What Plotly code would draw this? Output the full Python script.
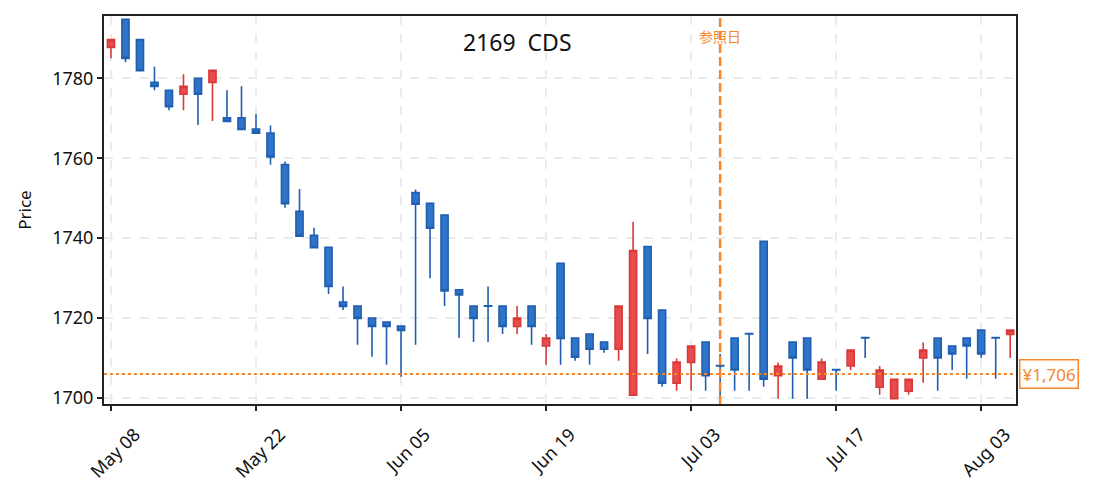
import plotly.graph_objects as go

# ---- data ----
opens = [1787.7, 1794.8, 1789.7, 1779.0, 1777.0, 1776.0, 1780.0, 1779.0, 1770.1, 1770.1,
         1767.3, 1766.3, 1758.4, 1746.7, 1740.7, 1737.7, 1724.0, 1723.0, 1720.0, 1719.0,
         1718.0, 1751.4, 1748.7, 1745.8, 1727.1, 1723.0, 1723.1, 1723.0, 1717.9, 1723.0,
         1713.0, 1733.7, 1715.0, 1716.0, 1714.0, 1712.2, 1700.7, 1737.9, 1722.0, 1703.7,
         1708.9, 1714.0, 1708.1, 1715.0, 1716.1, 1739.2, 1705.6, 1714.0, 1715.0, 1704.7,
         1707.1, 1708.0, 1715.1, 1702.7, 1699.8, 1701.7, 1710.0, 1715.0, 1713.0, 1715.0,
         1717.0, 1715.1, 1715.9]
highs = [1789.7, 1794.8, 1789.7, 1782.9, 1777.0, 1781.0, 1780.0, 1782.0, 1777.0, 1778.0,
         1771.0, 1768.2, 1759.2, 1752.3, 1742.6, 1737.7, 1727.9, 1723.0, 1720.0, 1719.0,
         1718.0, 1752.2, 1748.7, 1745.8, 1727.1, 1723.0, 1727.9, 1723.0, 1723.0, 1723.0,
         1716.0, 1733.7, 1715.0, 1716.0, 1714.0, 1723.0, 1744.1, 1737.9, 1722.0, 1709.9,
         1713.0, 1714.0, 1711.0, 1715.0, 1716.1, 1739.2, 1708.9, 1714.0, 1715.0, 1709.9,
         1707.1, 1712.0, 1715.1, 1708.0, 1704.7, 1704.7, 1713.9, 1715.0, 1713.0, 1715.0,
         1717.0, 1715.1, 1717.0]
lows = [1785.0, 1784.0, 1781.9, 1777.0, 1772.0, 1772.0, 1768.3, 1769.3, 1769.2, 1767.2,
        1766.3, 1758.4, 1747.6, 1740.5, 1737.6, 1726.0, 1722.0, 1713.3, 1710.3, 1708.3,
        1705.3, 1713.3, 1730.0, 1723.0, 1715.0, 1714.0, 1714.0, 1716.0, 1716.0, 1713.3,
        1708.3, 1708.3, 1709.3, 1708.3, 1711.3, 1709.3, 1700.7, 1711.0, 1702.8, 1701.8,
        1701.8, 1701.8, 1699.5, 1701.8, 1701.8, 1702.8, 1699.8, 1699.8, 1699.8, 1704.7,
        1701.8, 1707.0, 1710.0, 1700.8, 1699.8, 1700.8, 1703.8, 1701.8, 1707.0, 1704.8,
        1710.1, 1704.8, 1710.0]
closes = [1789.7, 1785.0, 1781.9, 1778.0, 1772.9, 1778.0, 1776.0, 1782.0, 1769.2, 1767.2,
          1766.3, 1760.3, 1748.6, 1740.5, 1737.6, 1727.9, 1722.9, 1719.9, 1717.9, 1717.9,
          1716.9, 1748.5, 1742.5, 1726.8, 1725.8, 1719.9, 1723.0, 1717.9, 1720.0, 1717.9,
          1715.0, 1714.9, 1710.2, 1712.2, 1712.2, 1723.0, 1736.9, 1719.9, 1703.7, 1709.0,
          1713.0, 1705.6, 1708.0, 1707.0, 1716.0, 1704.7, 1708.0, 1710.0, 1707.0, 1709.0,
          1707.0, 1712.0, 1715.0, 1707.0, 1704.7, 1704.7, 1712.0, 1710.0, 1711.0, 1713.0,
          1711.0, 1715.0, 1717.0]
bar_index = list(range(len(closes)))
tick_positions = [0, 10, 20, 30, 40, 50, 60]
tick_labels = ["May 08", "May 22", "Jun 05", "Jun 19", "Jul 03", "Jul 17", "Aug 03"]
y_ticks = [1700, 1720, 1740, 1760, 1780]
ref_index = 42
ref_label = "参照日"
current_price = 1706
title_text = "2169  CDS"

FONT = "Noto Sans, Noto Sans CJK JP"
ORANGE = "#f7862a"

fig = go.Figure()
fig.add_trace(go.Candlestick(
    x=bar_index, open=opens, high=highs, low=lows, close=closes,
    increasing=dict(fillcolor="#e84b4b", line=dict(color="#d83a3a", width=1.6)),
    decreasing=dict(fillcolor="#2e74c8", line=dict(color="#1f5eb0", width=1.6)),
    whiskerwidth=0,
    showlegend=False,
))

# current price line
fig.add_shape(type="line", xref="paper", x0=0, x1=1, yref="y",
              y0=current_price, y1=current_price,
              line=dict(color=ORANGE, width=2, dash="dot"), layer="above")
# reference date line
fig.add_shape(type="line", xref="x", x0=ref_index, x1=ref_index, yref="paper",
              y0=0, y1=1, line=dict(color=ORANGE, width=2.5, dash="9px,4px"), layer="above")

fig.add_annotation(x=ref_index, xref="x", y=0.949, yref="paper", text=ref_label,
                   showarrow=False, font=dict(family="Noto Sans CJK JP", size=14, color=ORANGE),
                   xanchor="center", yanchor="middle")
fig.add_annotation(x=0.453, xref="paper", y=0.933, yref="paper", text=title_text,
                   showarrow=False, font=dict(family=FONT, size=23, color="#111"),
                   xanchor="center", yanchor="middle")
fig.add_annotation(x=1, xref="paper", xshift=3, y=current_price, yref="y",
                   text=f"¥{current_price:,}", showarrow=False,
                   font=dict(family=FONT, size=17, color=ORANGE),
                   xanchor="left", yanchor="middle",
                   bgcolor="white", bordercolor=ORANGE, borderwidth=1.5, borderpad=2)

axis_common = dict(showline=True, mirror=True, linecolor="#222", linewidth=2,
                   ticks="outside", ticklen=5, tickwidth=2, tickcolor="#222",
                   showgrid=True, gridcolor="#ebebeb", gridwidth=1.5, griddash="dash",
                   zeroline=False, tickfont=dict(family=FONT, size=18, color="#111"))

# the page body adds an 8px offset, so margins are shifted by 8px
fig.update_layout(
    width=1095, height=492,
    margin=dict(l=96, r=87, t=6, b=96),
    paper_bgcolor="white", plot_bgcolor="white",
    font=dict(family=FONT, color="#111"),
    xaxis=dict(range=[-0.48, 62.4], tickvals=tick_positions, ticktext=tick_labels,
               tickangle=-45, ticklabelshift=24, ticklabelstandoff=6,
               rangeslider=dict(visible=False), **axis_common),
    yaxis=dict(range=[1698.5, 1795.6], tickvals=y_ticks,
               title=dict(text="Price", font=dict(family=FONT, size=17), standoff=16),
               **axis_common),
)

fig.write_html("out.html")
